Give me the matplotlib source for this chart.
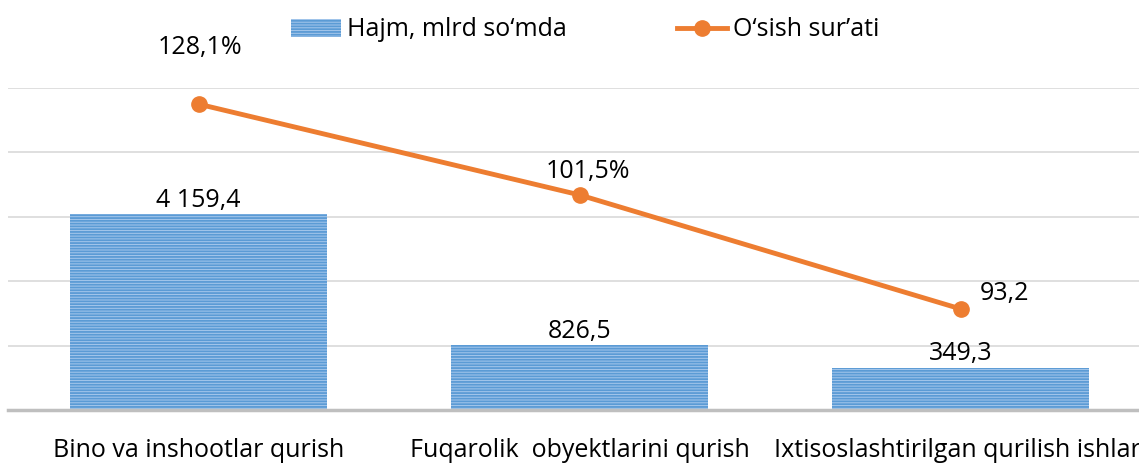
import matplotlib
matplotlib.use("Agg")
import matplotlib.pyplot as plt
from matplotlib.lines import Line2D
from matplotlib.patches import Patch

categories = ["Bino va inshootlar qurish", "Fuqarolik  obyektlarini qurish",
              "Ixtisoslashtirilgan qurilish ishlari"]
# bar heights as drawn (gridline = 1000 units), and their printed labels
bar_heights = [3043, 1010, 657]
bar_labels = ["4 159,4", "826,5", "349,3"]
# growth line as drawn (same scale), and its printed labels
line_heights = [4750, 3340, 1570]
line_labels = ["128,1%", "101,5%", "93,2"]

plt.rcParams['font.family'] = ['Open Sans', 'DejaVu Sans']
plt.rcParams['hatch.linewidth'] = 1.3

fig = plt.figure(figsize=(11.39, 4.63), dpi=100)
ax = fig.add_axes([8/1139, 53/463, 1143/1139, 322/463])
x = list(range(len(categories)))

ax.bar(x, bar_heights, width=0.675, facecolor='#a6c8ec', edgecolor='#5b9bd5',
       hatch='------', linewidth=0, zorder=2)
ax.plot(x, line_heights, color='#ed7d31', lw=3.5, marker='o', markersize=11,
        zorder=3)

ax.set_xlim(-0.5, 2.5)
ax.set_ylim(0, 5000)
ax.set_yticks([1000, 2000, 3000, 4000, 5000])
ax.yaxis.grid(True, color='#d9d9d9', lw=1.2, zorder=0)
ax.tick_params(left=False, labelleft=False, bottom=False)
for s in ['left', 'right', 'top']:
    ax.spines[s].set_visible(False)
ax.spines['bottom'].set_color('#bfbfbf')
ax.spines['bottom'].set_linewidth(2.5)
ax.set_xticks(x)
ax.set_xticklabels(categories, fontsize=18)
ax.tick_params(axis='x', pad=17)

fs = 18
for i, (h, lab) in enumerate(zip(bar_heights, bar_labels)):
    ax.annotate(lab, (i, h), xytext=(0, 1), textcoords='offset points',
                ha='center', va='bottom', fontsize=fs)
offsets = [(1, 32), (6, 8), (32, 2)]
for i, (h, lab) in enumerate(zip(line_heights, line_labels)):
    ax.annotate(lab, (i, h), xytext=offsets[i], textcoords='offset points',
                ha='center', va='bottom', fontsize=fs)

handles = [Patch(facecolor='#a6c8ec', edgecolor='#5b9bd5', hatch='------', linewidth=0),
           Line2D([], [], color='#ed7d31', lw=3.5, marker='o', markersize=11)]
fig.legend(handles, ["Hajm, mlrd so‘mda", "O‘sish sur’ati"], ncol=2,
           loc='center', bbox_to_anchor=(585/1139, 1 - 30/463), frameon=False,
           fontsize=18, columnspacing=4.4, handlelength=2.0, handletextpad=0.25)

fig.savefig("out.png", dpi=100)
